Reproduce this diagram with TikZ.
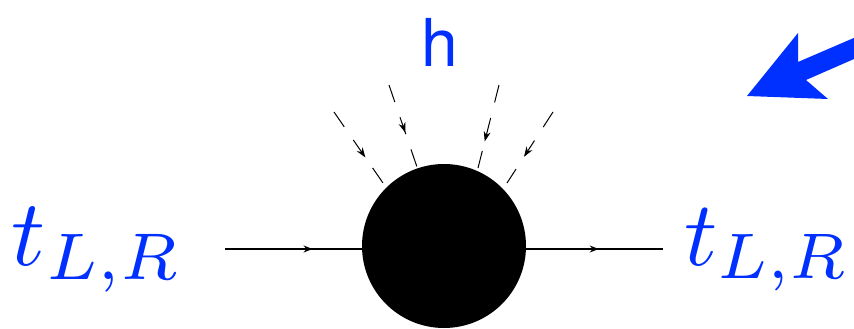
\documentclass[tikz,border=0pt]{standalone}
\usepackage{fontspec}
\newfontfamily\hfont{TeX Gyre Heros}
\usetikzlibrary{decorations.markings,arrows.meta}
\definecolor{myblue}{RGB}{0,48,255}
\tikzset{
  fermion/.style={line width=1.2pt, postaction={decorate},
    decoration={markings, mark=at position #1 with {\arrow{Stealth[length=9pt,width=7pt]}}}},
  scalar/.style={line width=1pt, dash pattern=on 18pt off 16pt, postaction={decorate},
    decoration={markings, mark=at position #1 with {\arrow{Stealth[length=10pt,width=7pt]}}}},
  quark/.style={text=myblue, inner sep=0pt},
}
\begin{document}
\begin{tikzpicture}[x=1pt,y=-1pt]
\useasboundingbox (0,0) rectangle (854,329);
\node[circle, fill=black, minimum size=164pt, inner sep=0pt] (blob) at (444,246) {};
\coordinate (lin) at (225,249);
\coordinate (rout) at (663,249);
\draw[fermion=0.64] (lin) -- (blob.west|-lin);
\draw[fermion=0.53] (blob.east|-rout) -- (rout);
\coordinate (a1) at (334,112); \coordinate (b1) at (383,183);
\coordinate (a2) at (389,85);  \coordinate (b2) at (417,167);
\coordinate (a3) at (499,85);  \coordinate (b3) at (478,168);
\coordinate (a4) at (553,112); \coordinate (b4) at (507,183);
\draw[scalar=0.64] (a1) -- (b1);
\draw[scalar=0.58] (a2) -- (b2);
\draw[scalar=0.68] (a3) -- (b3);
\draw[scalar=0.63] (a4) -- (b4);
\node[quark] (tl) at (97,250) {\resizebox{170pt}{!}{$t_{L,R}$}};
\node[quark] (tr) at (767,250) {\resizebox{166pt}{!}{$t_{L,R}$}};
\node[text=myblue, font=\hfont\fontsize{66}{70}\selectfont, inner sep=0pt] (h) at (440,42) {h};
\fill[myblue] (747,96) -- (798,33) -- (798,62) -- (870,31) -- (870,52) -- (806,80) -- (828,99) -- cycle;
\end{tikzpicture}
\end{document}
